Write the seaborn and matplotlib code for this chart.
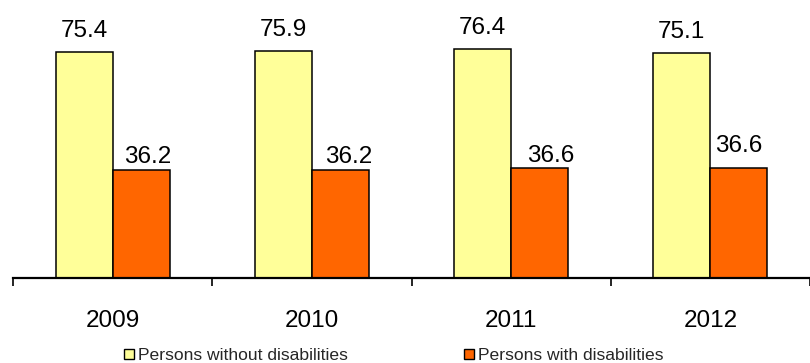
import matplotlib
matplotlib.use("Agg")
import matplotlib.pyplot as plt
import seaborn as sns
import pandas as pd
from matplotlib.lines import Line2D

years = ["2009", "2010", "2011", "2012"]
without_dis = [75.4, 75.9, 76.4, 75.1]
with_dis = [36.2, 36.2, 36.6, 36.6]
series_names = ["Persons without disabilities", "Persons with disabilities"]
colors = ["#FFFF99", "#FF6600"]

# label placement styling (pixel offsets: dx, gap above bar)
label_dx = [[0, 0, 0, 0], [6.5, 8.5, 11, 0]]
label_gap = [[15, 15, 15, 15], [7, 7, 6, 16]]

sns.set_theme(style="white")
plt.rcParams['font.family'] = ['Liberation Sans', 'DejaVu Sans']

df = pd.DataFrame({
    "year": years * 2,
    "value": without_dis + with_dis,
    "series": [series_names[0]] * 4 + [series_names[1]] * 4,
})

fig = plt.figure(figsize=(8.10, 3.63), dpi=100)
W, H = 810, 363
ax = fig.add_axes([13 / W, (H - 278) / H, (W - 13) / W, 278 / H])

sns.barplot(data=df, x="year", y="value", hue="series", palette=colors,
            width=0.573, edgecolor="black", linewidth=1.1, ax=ax, legend=False,
            saturation=1)

ax.set_ylim(0, 92.9)
ax.set_xlim(-0.5, -0.5 + 797 / 201.3)
for s in ["top", "right", "left"]:
    ax.spines[s].set_visible(False)
ax.spines["bottom"].set_linewidth(1.6)
ax.spines["bottom"].set_color("black")
ax.set_yticks([])
ax.set_xlabel("")
ax.set_ylabel("")

ax.set_xticks([-0.5, 0.5, 1.5, 2.5, 3.5])
ax.set_xticklabels([])
ax.tick_params(axis="x", which="major", direction="out", length=6, width=1.2,
               color="black", bottom=True)
ax.set_xticks(range(len(years)), minor=True)
ax.set_xticklabels(years, minor=True, fontsize=17.5)
ax.tick_params(axis="x", which="minor", length=0, pad=23, labelcolor="black")

px2pt = 72 / 100
for si, c in enumerate(ax.containers):
    for bi, bar in enumerate(c.patches):
        x = bar.get_x() + bar.get_width() / 2
        y = bar.get_height()
        ax.annotate(f"{c.datavalues[bi]:.1f}", (x, y),
                    xytext=(label_dx[si][bi] * px2pt, label_gap[si][bi] * px2pt),
                    textcoords="offset points", ha="center", va="baseline",
                    fontsize=17.5, color="black", annotation_clip=False)

handles = [Line2D([0], [0], marker="s", linestyle="none", markersize=7.3,
                  markerfacecolor=col, markeredgecolor="black", markeredgewidth=1.0)
           for col in colors]
fig.legend(handles, series_names, loc="center left",
           bbox_to_anchor=(123 / W, 1 - 355.5 / H),
           ncol=2, frameon=False, fontsize=12.6, handletextpad=0.2, columnspacing=6.6,
           handlelength=0.64, borderpad=0, borderaxespad=0)

fig.savefig("out.png", dpi=100)
